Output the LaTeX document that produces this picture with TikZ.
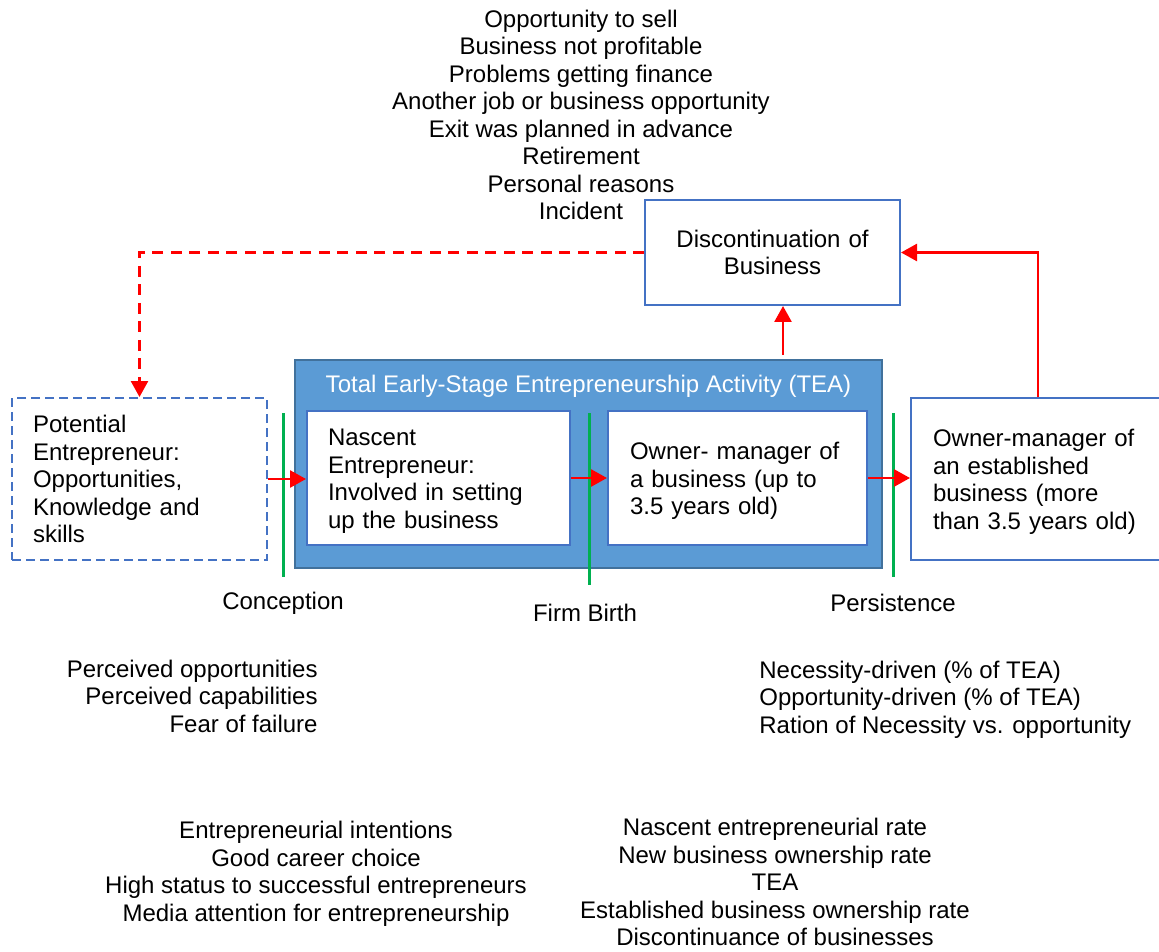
\documentclass[tikz,border=0pt]{standalone}
\usepackage{fontspec}
\setmainfont{Liberation Sans}
\usetikzlibrary{arrows.meta,calc}
\definecolor{boxblue}{HTML}{4472C4}
\definecolor{teafill}{HTML}{5B9BD5}
\definecolor{teaedge}{HTML}{41719C}
\definecolor{flowred}{HTML}{FF0000}
\definecolor{stagegreen}{HTML}{00B050}
% taller first line, nudging box text slightly downward
\newcommand\firstlinestrut{\rule{0pt}{11.7pt}}
\begin{document}
\begin{tikzpicture}[x=0.5pt,y=-0.5pt,
  font=\fontsize{12}{13.75}\selectfont,
  bx/.style={draw=boxblue, line width=1pt, fill=white, inner xsep=10.5pt, inner ysep=0pt, align=left},
  arr/.style={draw=flowred, line width=1.3pt, -{Triangle[length=8pt,width=8.5pt]}},
  stage/.style={draw=stagegreen, line width=1.5pt},
  txt/.style={inner sep=0pt}]
\useasboundingbox (0,0) rectangle (1159,951);
\clip (0,0) rectangle (1159,951);

% Exit reasons
\node[txt, align=center] (reasons) at (581,115) {Opportunity to sell\\Business not profitable\\Problems getting finance\\Another job or business opportunity\\Exit was planned in advance\\Retirement\\Personal reasons\\Incident};

% Discontinuation box
\node[bx, align=center, minimum width=127.5pt, minimum height=52.5pt, text width=106.5pt] (dis) at (772.5,252.5) {Discontinuation of\\Business};

% TEA container
\node[draw=teaedge, fill=teafill, line width=1pt, minimum width=293.5pt, minimum height=104pt, inner sep=0pt] (tea) at (588.5,464) {};
\node[txt, text=white] (teatitle) at (588.5,386) {Total Early-Stage Entrepreneurship Activity (TEA)};

% Stage boxes
\node[bx, dash pattern=on 4.5pt off 2.5pt, text width=106.5pt, minimum height=81pt] (pot) at (139.5,479) {Potential\\Entrepreneur:\\Opportunities,\\Knowledge and\\skills};
\node[bx, text width=110.5pt, minimum height=67pt] (nas) at (438.5,478) {\firstlinestrut Nascent\\Entrepreneur:\\Involved in setting\\up the business};
\node[bx, inner xsep=11pt, text width=107.5pt, minimum height=67pt] (own) at (737.5,478) {\firstlinestrut Owner- manager of\\a business (up to\\3.5 years old)};
\node[bx, inner xsep=11pt, text width=113pt, minimum height=81pt, anchor=west] (est) at (910,479) {\firstlinestrut Owner-manager of\\an established\\business (more\\than 3.5 years old)};

% Stage separators
\draw[stage] (283,413) -- (283,577);
\draw[stage] (589,413) -- (589,585);
\draw[stage] (893,413) -- (893,577);

% Flow arrows
\draw[arr] (pot.east) -- (pot.east -| nas.west);
\draw[arr] (nas.east) -- (nas.east -| own.west);
\draw[arr] (own.east) -- (own.east -| est.west);
\coordinate (upstart) at (783,355);
\draw[arr] (upstart) -- (upstart |- dis.south);
\draw[arr] ($(est.north west)+(128,0)$) |- (dis.east);
\draw[arr, dash pattern=on 5.5pt off 3.75pt] (dis.west) -| (pot.north);

% Stage labels
\node[txt] (conc) at (283,603) {Conception};
\node[txt] (birth) at (585,613) {Firm Birth};
\node[txt] (pers) at (893,603) {Persistence};

% Indicator lists
\node[txt, align=right, anchor=east] (perc) at (318,696) {Perceived opportunities\\Perceived capabilities\\Fear of failure};
\node[txt, align=left, anchor=west] (motiv) at (759,699.5) {Necessity-driven (\% of TEA)\\Opportunity-driven (\% of TEA)\\Ration of Necessity vs. opportunity};
\node[txt, align=center] (attit) at (316,874) {Entrepreneurial intentions\\Good career choice\\High status to successful entrepreneurs\\Media attention for entrepreneurship};
\node[txt, align=center] (rates) at (775,882) {Nascent entrepreneurial rate\\New business ownership rate\\TEA\\Established business ownership rate\\Discontinuance of businesses};
\end{tikzpicture}
\end{document}
